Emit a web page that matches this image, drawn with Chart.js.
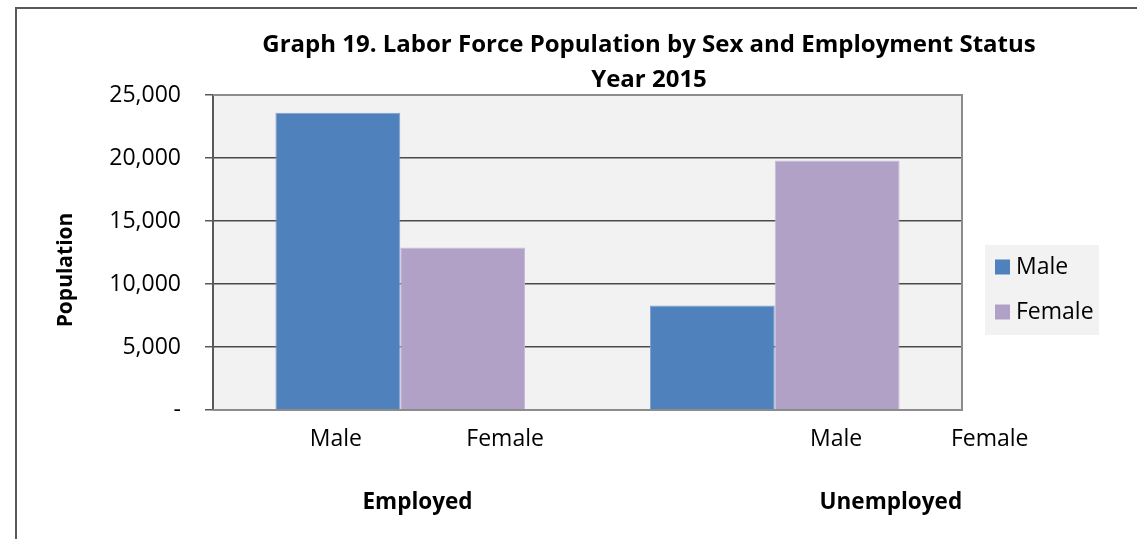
<!DOCTYPE html>
<html>
<head>
<meta charset="utf-8">
<script src="https://cdn.jsdelivr.net/npm/chart.js@4.4.1/dist/chart.umd.min.js"></script>
<style>
  html, body { margin: 0; padding: 0; background: #ffffff; }
  #wrap { width: 1137px; height: 539px; position: relative; }
</style>
</head>
<body>
<div id="wrap"><canvas id="c" width="1137" height="539"></canvas></div>
<script>
// ---- data ----
const categories = ['Employed', 'Unemployed'];
const seriesNames = ['Male', 'Female'];
const maleValues = [23600, 8300];
const femaleValues = [12900, 19800];
const subLabels = ['Male', 'Female', 'Male', 'Female'];
const titleLines = ['Graph 19. Labor Force Population by Sex and Employment Status', 'Year 2015'];
const yAxisTitle = 'Population';
const yTicks = [0, 5000, 10000, 15000, 20000, 25000];

const FONT = '"Open Sans", "DejaVu Sans", sans-serif';
const colors = ['#4f81bd', '#b2a1c7'];

const decorPlugin = {
  id: 'decor',
  beforeDraw(chart, args, opts) {
    const ctx = chart.ctx, a = chart.chartArea;
    ctx.save();
    ctx.fillStyle = '#ffffff';
    ctx.fillRect(0, 0, chart.width, chart.height);
    ctx.strokeStyle = '#595959';
    ctx.lineWidth = 2;
    ctx.strokeRect(16, 8, chart.width + 20, chart.height + 20);
    ctx.fillStyle = '#f2f2f2';
    ctx.fillRect(a.left, a.top, a.right - a.left, a.bottom - a.top);
    ctx.restore();
  },
  afterDatasetsDraw(chart, args, opts) {
    const ctx = chart.ctx, a = chart.chartArea;
    ctx.save();
    ctx.strokeStyle = '#8c8c8c';
    ctx.lineWidth = 2;
    ctx.beginPath();
    ctx.moveTo(a.left, a.top); ctx.lineTo(a.right, a.top); ctx.lineTo(a.right, a.bottom); ctx.lineTo(a.left, a.bottom);
    ctx.stroke();
    ctx.restore();
  },
  afterDraw(chart, args, opts) {
    const ctx = chart.ctx, a = chart.chartArea;
    const w = a.right - a.left;
    ctx.save();
    ctx.fillStyle = '#000000';
    ctx.textAlign = 'center';
    ctx.textBaseline = 'middle';
    // title
    ctx.font = 'bold 24px ' + FONT;
    titleLines.forEach((t, i) => ctx.fillText(t, opts.titleX, opts.titleY[i]));
    // y axis title
    ctx.save();
    ctx.translate(opts.yTitleX, opts.yTitleY);
    ctx.rotate(-Math.PI / 2);
    ctx.font = 'bold 21px ' + FONT;
    ctx.fillText(yAxisTitle, 0, 0);
    ctx.restore();
    // sub labels
    ctx.font = '23px ' + FONT;
    subLabels.forEach((t, i) => ctx.fillText(t, a.left + opts.subFrac[i] * w, opts.subY));
    // group labels
    ctx.font = 'bold 22.5px ' + FONT;
    categories.forEach((t, i) => ctx.fillText(t, a.left + opts.groupFrac[i] * w, opts.groupY));
    // legend
    const L = opts.legend;
    ctx.fillStyle = '#f2f2f2';
    ctx.fillRect(L.x, L.y, L.w, L.h);
    ctx.textAlign = 'left';
    ctx.font = '23px ' + FONT;
    chart.data.datasets.forEach((ds, i) => {
      const cy = L.y + L.first + i * L.step;
      ctx.fillStyle = ds.backgroundColor;
      ctx.fillRect(L.x + 10, cy - 7.5, 15, 15);
      ctx.fillStyle = '#000000';
      ctx.fillText(ds.label, L.x + 31, cy);
    });
    ctx.restore();
  }
};

new Chart(document.getElementById('c'), {
  type: 'bar',
  data: {
    labels: categories,
    datasets: [
      { label: seriesNames[0], data: maleValues, backgroundColor: colors[0], borderColor: '#7ea1cf', borderWidth: 1 },
      { label: seriesNames[1], data: femaleValues, backgroundColor: colors[1], borderColor: '#c7bad9', borderWidth: 1 }
    ]
  },
  options: {
    responsive: false,
    animation: false,
    events: [],
    layout: { padding: { top: 95, right: 175, bottom: 129, left: 0 } },
    datasets: { bar: { categoryPercentage: 2 / 3, barPercentage: 1 } },
    plugins: {
      legend: { display: false },
      title: { display: false },
      tooltip: { enabled: false },
      decor: {
        titleX: 649,
        titleY: [45, 80],
        yTitleX: 66,
        yTitleY: 270,
        subFrac: [0.164, 0.390, 0.832, 1.037],
        subY: 439,
        groupFrac: [0.273, 0.905],
        groupY: 503,
        legend: { x: 985, y: 245, w: 114, h: 90, first: 22, step: 45 }
      }
    },
    scales: {
      x: {
        ticks: { display: false },
        grid: { display: false, drawTicks: false },
        border: { display: false },
        afterFit(s) { s.height = 0; }
      },
      y: {
        min: 0,
        max: 25000,
        afterBuildTicks(s) { s.ticks = yTicks.map(v => ({ value: v })); },
        afterFit(s) { s.width = 213; },
        ticks: {
          padding: 24,
          color: '#000000',
          font: { family: FONT, size: 23 },
          callback: v => v === 0 ? '-' : v.toLocaleString('en-US')
        },
        grid: { color: '#4a4a4a', lineWidth: 1.5, tickLength: 8, tickColor: '#595959' },
        border: { color: '#595959', width: 2 },
        title: { display: false }
      }
    }
  },
  plugins: [decorPlugin]
});
</script>
</body>
</html>
